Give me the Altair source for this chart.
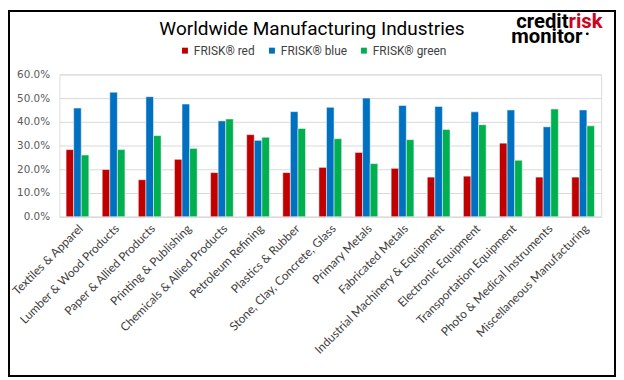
import altair as alt
import pandas as pd

categories = [
    "Textiles & Apparel", "Lumber & Wood Products", "Paper & Allied Products",
    "Printing & Publishing", "Chemicals & Allied Products", "Petroleum Refining",
    "Plastics & Rubber", "Stone, Clay, Concrete, Glass", "Primary Metals",
    "Fabricated Metals", "Industrial Machinery & Equipment", "Electronic Equipment",
    "Transportation Equipment", "Photo & Medical Instruments", "Miscellaneous Manufacturing",
]
red = [28.3, 19.9, 15.6, 24.2, 18.6, 34.6, 18.6, 20.8, 27.1, 20.4, 16.7, 17.1, 31.0, 16.7, 16.7]
blue = [45.8, 52.5, 50.6, 47.5, 40.4, 32.2, 44.3, 46.1, 50.0, 46.9, 46.5, 44.2, 45.0, 37.9, 45.0]
green = [26.0, 28.3, 34.2, 28.8, 41.2, 33.5, 37.2, 32.9, 22.4, 32.5, 36.8, 38.8, 23.8, 45.4, 38.3]
series = ["FRISK® red", "FRISK® blue", "FRISK® green"]
colors = ["#C00000", "#0070C0", "#00B050"]
y_ticks = [0, 0.1, 0.2, 0.3, 0.4, 0.5, 0.6]

rows = []
for i, c in enumerate(categories):
    for s, vals in zip(series, [red, blue, green]):
        rows.append({"Industry": c, "Series": s, "Value": vals[i] / 100})
df = pd.DataFrame(rows)

bars = alt.Chart(df).mark_bar(stroke="white", strokeWidth=0.5).encode(
    x=alt.X("Industry:N", sort=categories,
            scale=alt.Scale(paddingInner=0.37, paddingOuter=0.185),
            axis=alt.Axis(title=None, labelAngle=-45, labelFont="Lato", labelFontSize=12,
                          labelColor="#404040", domainColor="#D9D9D9", domainWidth=1,
                          ticks=False, labelPadding=6, labelOverlap=False)),
    xOffset=alt.XOffset("Series:N", sort=series),
    y=alt.Y("Value:Q", scale=alt.Scale(domain=[0, 0.6]),
            axis=alt.Axis(title=None, format=".1%", values=y_ticks, grid=True,
                          gridColor="#D9D9D9", domain=False, ticks=False,
                          labelFont="DejaVu Sans", labelFontSize=10.5, labelColor="#595959",
                          labelPadding=10)),
    color=alt.Color("Series:N", sort=series,
                    scale=alt.Scale(domain=series, range=colors),
                    legend=alt.Legend(title=None, orient="none", legendX=121, legendY=-30,
                                      direction="horizontal", symbolType="square",
                                      symbolSize=36, symbolStrokeWidth=0,
                                      labelFont="Roboto", labelFontSize=12,
                                      labelColor="#404040", columnPadding=11,
                                      labelOffset=3)),
)

frame = alt.Chart(pd.DataFrame({"k": [0]})).mark_rect(
    fillOpacity=0, stroke="black", strokeWidth=2
).encode(x=alt.value(-51), x2=alt.value(562), y=alt.value(-64), y2=alt.value(305))

title = alt.Chart(pd.DataFrame({"t": ["Worldwide Manufacturing Industries"]})).mark_text(
    font="Roboto", fontSize=19.2, color="black", align="center", baseline="alphabetic"
).encode(text="t:N", x=alt.value(255.5), y=alt.value(-40))

logo_credit = alt.Chart(pd.DataFrame({"t": ["credit"]})).mark_text(
    font="Roboto", fontSize=20.5, fontWeight="bold", color="black", align="right", baseline="alphabetic"
).encode(text="t:N", x=alt.value(515), y=alt.value(-47))
logo_risk = alt.Chart(pd.DataFrame({"t": ["risk"]})).mark_text(
    font="Roboto", fontSize=20.5, fontWeight="bold", color="#D0021B", align="left", baseline="alphabetic"
).encode(text="t:N", x=alt.value(515), y=alt.value(-47))
logo_monitor = alt.Chart(pd.DataFrame({"t": ["monitor"]})).mark_text(
    font="Roboto", fontSize=20.5, fontWeight="bold", color="black", align="left", baseline="alphabetic"
).encode(text="t:N", x=alt.value(457), y=alt.value(-32))
logo_dot = alt.Chart(pd.DataFrame({"k": [0]})).mark_point(
    shape="circle", filled=True, size=8, color="black", opacity=1
).encode(x=alt.value(534), y=alt.value(-41))

chart = alt.layer(frame, bars, title, logo_credit, logo_risk, logo_monitor, logo_dot).properties(
    width=548, height=144, autosize="none",
    padding={"left": 52, "top": 65, "right": 15, "bottom": 162},
).configure_view(stroke=None).configure(background="white")

chart.save("out.html", embed_options={"renderer": "svg", "actions": False})
